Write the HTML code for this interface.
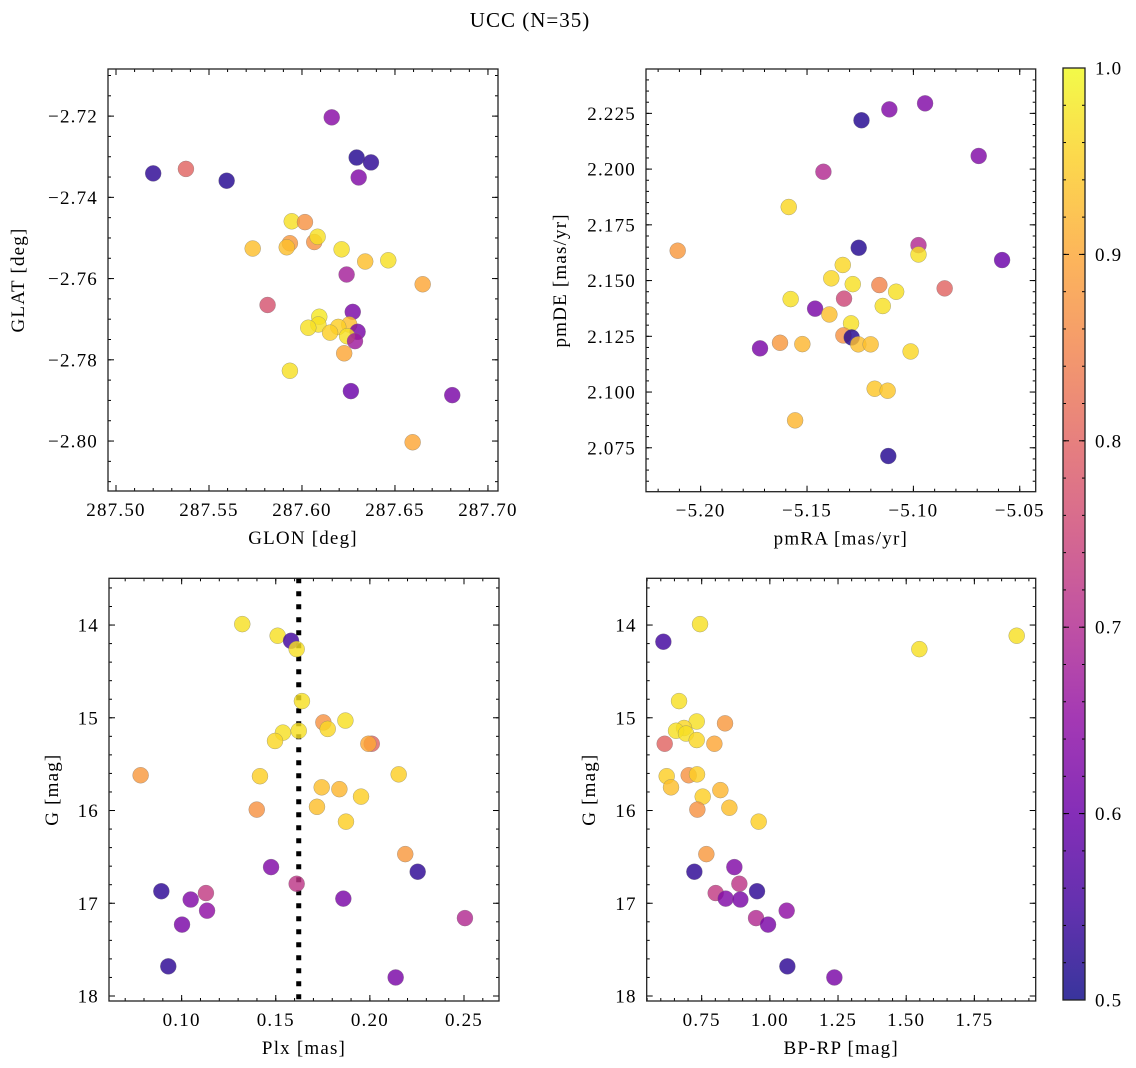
<!DOCTYPE html>
<html><head><meta charset="utf-8"><title>UCC (N=35)</title>
<style>
html,body{margin:0;padding:0;background:#fff;}
svg{display:block;font-family:"Liberation Serif","DejaVu Serif",serif;}
</style></head>
<body>
<svg id="fig" width="1136" height="1068" viewBox="0 0 1136 1068" xmlns="http://www.w3.org/2000/svg">
<text x="530" y="27" text-anchor="middle" font-size="21" letter-spacing="1">UCC (N=35)</text>
</svg>
<script>
// ---- data ----
const glon=[287.616,287.520,287.5376,287.5595,287.6294,287.6371,287.6305,287.5945,287.6016,287.5735,287.5935,287.5918,287.6066,287.6084,287.6213,287.634,287.6464,287.6649,287.624,287.5815,287.6273,287.6093,287.6088,287.6034,287.6254,287.6195,287.6151,287.6299,287.6243,287.6285,287.6227,287.5935,287.6263,287.6808,287.6595];
const glat=[-2.7203,-2.7341,-2.733,-2.7359,-2.7302,-2.7314,-2.7351,-2.7459,-2.7461,-2.7526,-2.7513,-2.7523,-2.751,-2.7497,-2.7528,-2.7558,-2.7555,-2.7614,-2.759,-2.7665,-2.7682,-2.7694,-2.7713,-2.7721,-2.7713,-2.7719,-2.7733,-2.7731,-2.7742,-2.7754,-2.7784,-2.7827,-2.7877,-2.7887,-2.8003];
const probA=[0.64,0.53,0.8,0.52,0.52,0.53,0.63,0.97,0.87,0.93,0.88,0.93,0.87,0.97,0.97,0.93,0.97,0.9,0.68,0.77,0.62,0.98,0.97,0.97,0.93,0.95,0.95,0.62,0.97,0.67,0.9,0.97,0.6,0.62,0.9];

const pmra=[-5.1113,-5.0945,-5.1244,-5.0693,-5.1423,-5.1586,-5.2108,-5.1257,-5.0976,-5.0976,-5.0583,-5.1332,-5.1386,-5.1285,-5.116,-5.0853,-5.1081,-5.1577,-5.1326,-5.1144,-5.1462,-5.1395,-5.1293,-5.1329,-5.129,-5.1259,-5.1201,-5.1627,-5.1522,-5.1721,-5.1013,-5.1182,-5.1121,-5.1556,-5.1118];
const pmde=[2.2268,2.2295,2.2219,2.2059,2.1988,2.183,2.1634,2.1647,2.1659,2.1617,2.1592,2.157,2.151,2.1484,2.148,2.1465,2.145,2.1417,2.1419,2.1386,2.1374,2.1348,2.1308,2.1254,2.1245,2.1214,2.1214,2.1221,2.1215,2.1196,2.1182,2.1015,2.1006,2.0873,2.0713];
const probB=[0.63,0.63,0.52,0.63,0.7,0.96,0.88,0.52,0.7,0.97,0.6,0.96,0.96,0.97,0.85,0.8,0.97,0.97,0.75,0.97,0.62,0.93,0.97,0.87,0.52,0.93,0.93,0.88,0.92,0.62,0.96,0.94,0.94,0.92,0.52];

const plx=[0.1322,0.151,0.1581,0.1611,0.1639,0.1753,0.187,0.1776,0.1622,0.1538,0.1496,0.201,0.1992,0.0782,0.1416,0.2153,0.1744,0.1838,0.1953,0.1719,0.1399,0.1873,0.2188,0.1475,0.2254,0.1611,0.0892,0.1129,0.1048,0.1859,0.1135,0.2505,0.1002,0.0929,0.2137];
const gmagC=[13.99,14.115,14.17,14.26,14.82,15.05,15.03,15.12,15.14,15.16,15.25,15.28,15.28,15.62,15.63,15.61,15.75,15.77,15.85,15.96,15.99,16.12,16.47,16.61,16.66,16.79,16.87,16.89,16.96,16.95,17.08,17.16,17.23,17.68,17.8];
const probC=[0.97,0.97,0.55,0.97,0.97,0.87,0.97,0.96,0.97,0.97,0.96,0.8,0.9,0.88,0.95,0.95,0.93,0.92,0.95,0.93,0.87,0.95,0.88,0.63,0.53,0.72,0.53,0.73,0.63,0.62,0.65,0.7,0.62,0.53,0.62];
const plxMedian=0.1622;

const bprp=[0.7439,0.6094,1.5483,1.9053,0.6669,0.8356,0.7317,0.6852,0.6559,0.6925,0.7317,0.7965,0.6143,0.6216,0.7023,0.7329,0.6375,0.8185,0.7537,0.8515,0.7341,0.959,0.7671,0.8698,0.7231,0.8881,0.9529,0.8013,0.838,0.8918,1.0617,0.9493,0.9933,1.0642,1.2366];
const gmagD=[13.99,14.18,14.26,14.115,14.82,15.06,15.04,15.11,15.14,15.17,15.24,15.28,15.28,15.63,15.62,15.61,15.75,15.78,15.85,15.97,15.99,16.12,16.47,16.61,16.66,16.79,16.87,16.89,16.95,16.96,17.08,17.16,17.23,17.68,17.8];
const probD=[0.97,0.55,0.97,0.97,0.97,0.88,0.97,0.96,0.97,0.97,0.96,0.9,0.8,0.95,0.87,0.95,0.93,0.92,0.95,0.93,0.87,0.95,0.88,0.63,0.53,0.72,0.53,0.73,0.63,0.62,0.65,0.7,0.62,0.53,0.62];

const cbTicks=[0.5,0.6,0.7,0.8,0.9,1.0];

// ---- helpers ----
const NS="http://www.w3.org/2000/svg";
const svg=document.getElementById('fig');
const FS=19, LS=1.2;
function mk(tag,attrs,parent){const e=document.createElementNS(NS,tag);for(const k in attrs)e.setAttribute(k,attrs[k]);(parent||svg).appendChild(e);return e;}
const plasma=[[13,8,135],[65,4,157],[106,0,168],[143,13,164],[177,42,144],[204,71,120],[225,100,98],[242,132,75],[252,166,54],[252,206,37],[240,249,33]];
function cmap(v){let t=(v-0.5)/0.5;t=Math.max(0,Math.min(1,t));const f=t*10;const i=Math.min(9,Math.floor(f));const r=f-i;const a=plasma[i],b=plasma[i+1];return `rgb(${Math.round(a[0]+(b[0]-a[0])*r)},${Math.round(a[1]+(b[1]-a[1])*r)},${Math.round(a[2]+(b[2]-a[2])*r)})`;}
function fmt(v,d){const s=Math.abs(v).toFixed(d);return (v<-1e-9?'\u2212':'')+s;}

function panel(p){
  const g=mk('g',{});
  
  
  const sx=v=>p.x0+(v-p.xmin)/(p.xmax-p.xmin)*(p.x1-p.x0);
  const sy=p.yinv?(v=>p.y0+(v-p.ymin)/(p.ymax-p.ymin)*(p.y1-p.y0)):(v=>p.y1-(v-p.ymin)/(p.ymax-p.ymin)*(p.y1-p.y0));
  const tg=mk('g',{stroke:'#000','stroke-width':1},g);
  function ticks(min,max,step,len,isX,label,dec){
    const s=Math.ceil(min/step-1e-6);const e=Math.floor(max/step+1e-6);
    for(let k=s;k<=e;k++){const v=k*step;
      if(isX){const x=sx(v);
        mk('line',{x1:x,x2:x,y1:p.y1,y2:p.y1-len},tg);mk('line',{x1:x,x2:x,y1:p.y0,y2:p.y0+len},tg);
        if(label){const t=mk('text',{x:x,y:p.y1+25,'text-anchor':'middle','font-size':FS,'letter-spacing':LS,stroke:'none'},g);t.textContent=fmt(v,dec);
          }
      }else{const y=sy(v);
        mk('line',{x1:p.x0,x2:p.x0+len,y1:y,y2:y},tg);mk('line',{x1:p.x1,x2:p.x1-len,y1:y,y2:y},tg);
        if(label){const t=mk('text',{x:p.x0-10,y:y+6.5,'text-anchor':'end','font-size':FS,'letter-spacing':LS,stroke:'none'},g);t.textContent=fmt(v,dec);
          }
      }}
  }
  ticks(p.xmin,p.xmax,p.xminor,3,true,false);
  ticks(p.xmin,p.xmax,p.xmajor,6,true,true,p.xdec);
  ticks(Math.min(p.ymin,p.ymax),Math.max(p.ymin,p.ymax),p.yminor,3,false,false);
  ticks(Math.min(p.ymin,p.ymax),Math.max(p.ymin,p.ymax),p.ymajor,6,false,true,p.ydec);
  if(p.vline!==undefined){const l=mk('line',{x1:sx(p.vline),x2:sx(p.vline),y1:p.y0,y2:p.y1,stroke:'#000','stroke-width':5,'stroke-dasharray':'5 8'},g);
    }
  const pg=mk('g',{},g);
  
  for(let i=0;i<p.xs.length;i++){
    const c=mk('circle',{cx:sx(p.xs[i]),cy:sy(p.ys[i]),r:8,fill:cmap(p.c[i]),'fill-opacity':0.82,stroke:'#777','stroke-width':0.5,'stroke-opacity':0.6},pg);
    
    
  }
  mk('rect',{x:p.x0,y:p.y0,width:p.x1-p.x0,height:p.y1-p.y0,fill:'none',stroke:'#222','stroke-width':1.3},g);
  const xl=mk('text',{x:(p.x0+p.x1)/2,y:p.y1+53,'text-anchor':'middle','font-size':FS,'letter-spacing':LS},g);xl.textContent=p.xlabel;
  
  const yx=p.ylabx,yy=(p.y0+p.y1)/2;
  const yl=mk('text',{x:yx,y:yy,'text-anchor':'middle','font-size':FS,'letter-spacing':LS,transform:`rotate(-90 ${yx} ${yy})`},g);yl.textContent=p.ylabel;
  
}

panel({name:'glon-glat-panel',x0:108,x1:498,y0:69,y1:491,xmin:287.4957,xmax:287.7054,ymin:-2.8123,ymax:-2.7084,xmajor:0.05,xminor:0.01,ymajor:0.02,yminor:0.005,xdec:2,ydec:2,xs:glon,ys:glat,c:probA,xlabel:'GLON [deg]',ylabel:'GLAT [deg]',ylabx:24});
panel({name:'proper-motion-panel',x0:646,x1:1035.7,y0:69,y1:491.7,xmin:-5.2257,xmax:-5.0425,ymin:2.0553,ymax:2.2449,xmajor:0.05,xminor:0.01,ymajor:0.025,yminor:0.005,xdec:2,ydec:3,xs:pmra,ys:pmde,c:probB,xlabel:'pmRA [mas/yr]',ylabel:'pmDE [mas/yr]',ylabx:566});
panel({name:'plx-g-panel',x0:109,x1:499,y0:578.3,y1:1001,xmin:0.0614,xmax:0.2686,ymin:13.496,ymax:18.054,yinv:true,xmajor:0.05,xminor:0.01,ymajor:1,yminor:0.2,xdec:2,ydec:0,xs:plx,ys:gmagC,c:probC,vline:plxMedian,xlabel:'Plx [mas]',ylabel:'G [mag]',ylabx:58});
panel({name:'cmd-panel',x0:646.7,x1:1035.7,y0:578.3,y1:1001,xmin:0.5483,xmax:1.975,ymin:13.496,ymax:18.054,yinv:true,xmajor:0.25,xminor:0.05,ymajor:1,yminor:0.2,xdec:2,ydec:0,xs:bprp,ys:gmagD,c:probD,xlabel:'BP-RP [mag]',ylabel:'G [mag]',ylabx:595});

// colorbar
const cb=mk('g',{});


const defs=mk('defs',{},cb);
const lg=mk('linearGradient',{id:'pl',x1:0,y1:1,x2:0,y2:0},defs);
plasma.forEach((c,i)=>mk('stop',{offset:(i/10),'stop-color':`rgb(${c[0]},${c[1]},${c[2]})`},lg));
const cbx0=1063,cbx1=1085,cby0=68,cby1=1000;
mk('rect',{x:cbx0,y:cby0,width:cbx1-cbx0,height:cby1-cby0,fill:'url(#pl)','fill-opacity':0.82},cb);
const cy=v=>cby1-(v-0.5)/0.5*(cby1-cby0);
for(let k=25;k<=50;k++){const v=k*0.02;const y=cy(v);mk('line',{x1:cbx1,x2:cbx1-3,y1:y,y2:y,stroke:'#000'},cb);mk('line',{x1:cbx0,x2:cbx0+3,y1:y,y2:y,stroke:'#000'},cb);}
cbTicks.forEach(v=>{const y=cy(v);mk('line',{x1:cbx1,x2:cbx1-6,y1:y,y2:y,stroke:'#000'},cb);mk('line',{x1:cbx0,x2:cbx0+6,y1:y,y2:y,stroke:'#000'},cb);
  const t=mk('text',{x:cbx1+10,y:y+6.5,'font-size':FS,'letter-spacing':LS},cb);t.textContent=v.toFixed(1);
  });
mk('rect',{x:cbx0,y:cby0,width:cbx1-cbx0,height:cby1-cby0,fill:'none',stroke:'#222','stroke-width':1.3},cb);
</script>
</body></html>
